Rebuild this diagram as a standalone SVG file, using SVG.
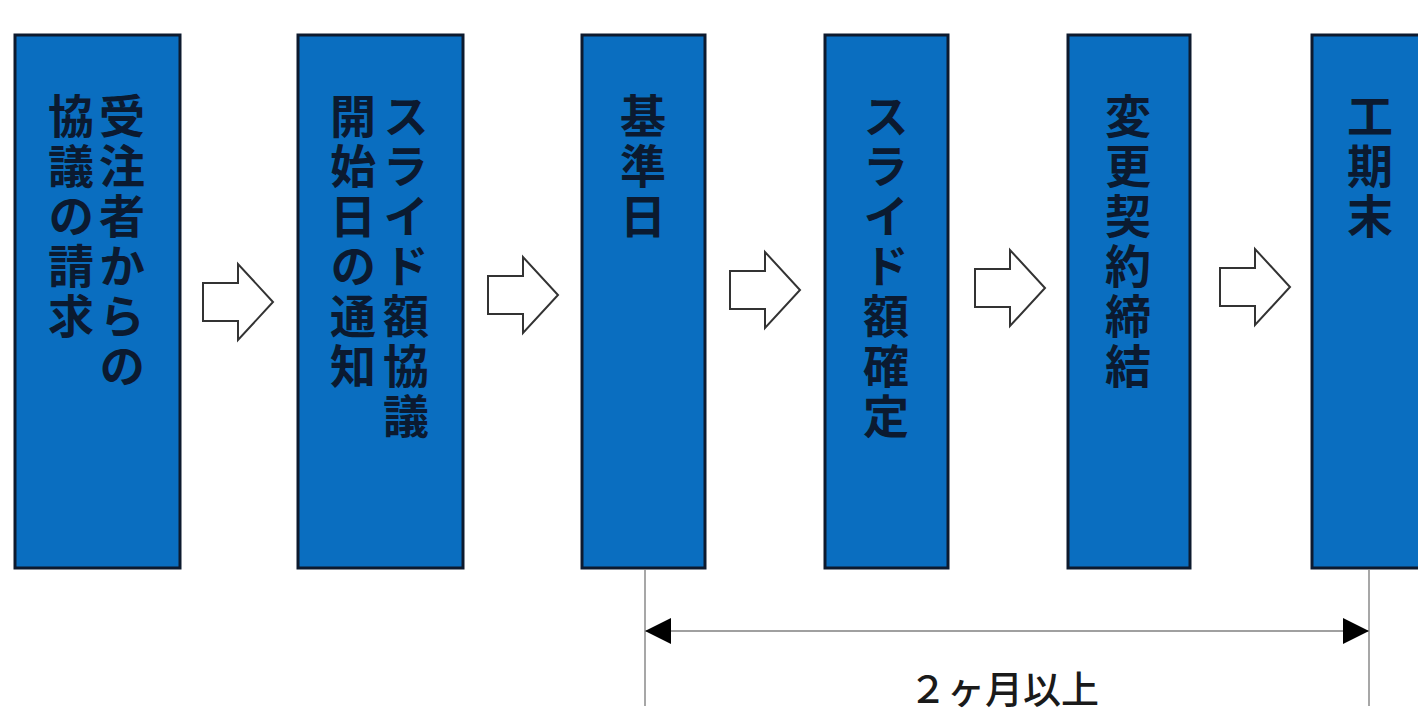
<svg xmlns="http://www.w3.org/2000/svg" width="1418" height="712" viewBox="0 0 1418 712">
<style>
.box{fill:#0a6ec0;stroke:#0d1a2e;stroke-width:3}
.vt{font-family:"Noto Sans CJK JP","Noto Sans CJK SC",sans-serif;font-weight:bold;font-size:46px;fill:#0b1a30;writing-mode:vertical-rl;letter-spacing:4px}
.blk{fill:#ffffff;stroke:#333333;stroke-width:2;stroke-linejoin:miter}
.dim{stroke:#8a8a8a;stroke-width:1.5;fill:none}
.dimline{stroke:#a0a0a0;stroke-width:2;fill:none}
.lbl{font-family:"Noto Sans CJK JP","Noto Sans CJK SC",sans-serif;font-size:38px;font-weight:500;fill:#1a1a1a;text-anchor:middle}
</style>
<defs>
<path id="blockArrow" d="M0,-19 H35 V-38 L70,0 L35,38 V19 H0 Z"/>
<marker id="ah" markerUnits="userSpaceOnUse" markerWidth="27" markerHeight="27" refX="26" refY="13" orient="auto-start-reverse" viewBox="0 0 27 27">
<path d="M0,0 L26,13 L0,26 Z" fill="#000000"/>
</marker>
</defs>
<rect width="1418" height="712" fill="#ffffff"/>
<g id="n1"><rect class="box" x="15" y="35" width="165" height="533"/>
<text class="vt" x="122" y="93">受注者からの</text>
<text class="vt" x="71" y="93">協議の請求</text></g>
<g id="n2"><rect class="box" x="298" y="35" width="165" height="533"/>
<text class="vt" x="406" y="93">スライド額協議</text>
<text class="vt" x="353" y="93">開始日の通知</text></g>
<g id="n3"><rect class="box" x="582" y="35" width="123" height="533"/>
<text class="vt" x="643" y="93">基準日</text></g>
<g id="n4"><rect class="box" x="825" y="35" width="123" height="533"/>
<text class="vt" x="886" y="93">スライド額確定</text></g>
<g id="n5"><rect class="box" x="1068" y="35" width="122" height="533"/>
<text class="vt" x="1128" y="93">変更契約締結</text></g>
<g id="n6"><rect class="box" x="1312" y="35" width="124" height="533"/>
<text class="vt" x="1370" y="93">工期末</text></g>
<g id="connectors">
<use href="#blockArrow" class="blk" transform="translate(203,302)"/>
<use href="#blockArrow" class="blk" transform="translate(488,295)"/>
<use href="#blockArrow" class="blk" transform="translate(730,290)"/>
<use href="#blockArrow" class="blk" transform="translate(975,288)"/>
<use href="#blockArrow" class="blk" transform="translate(1220,287)"/>
<line class="dim" x1="645" y1="569" x2="645" y2="706"/>
<line class="dim" x1="1369" y1="569" x2="1369" y2="706"/>
<line class="dimline" x1="645" y1="631" x2="1369" y2="631" marker-start="url(#ah)" marker-end="url(#ah)"/>
</g>
<text class="lbl" x="1004" y="703">２ヶ月以上</text>
</svg>
